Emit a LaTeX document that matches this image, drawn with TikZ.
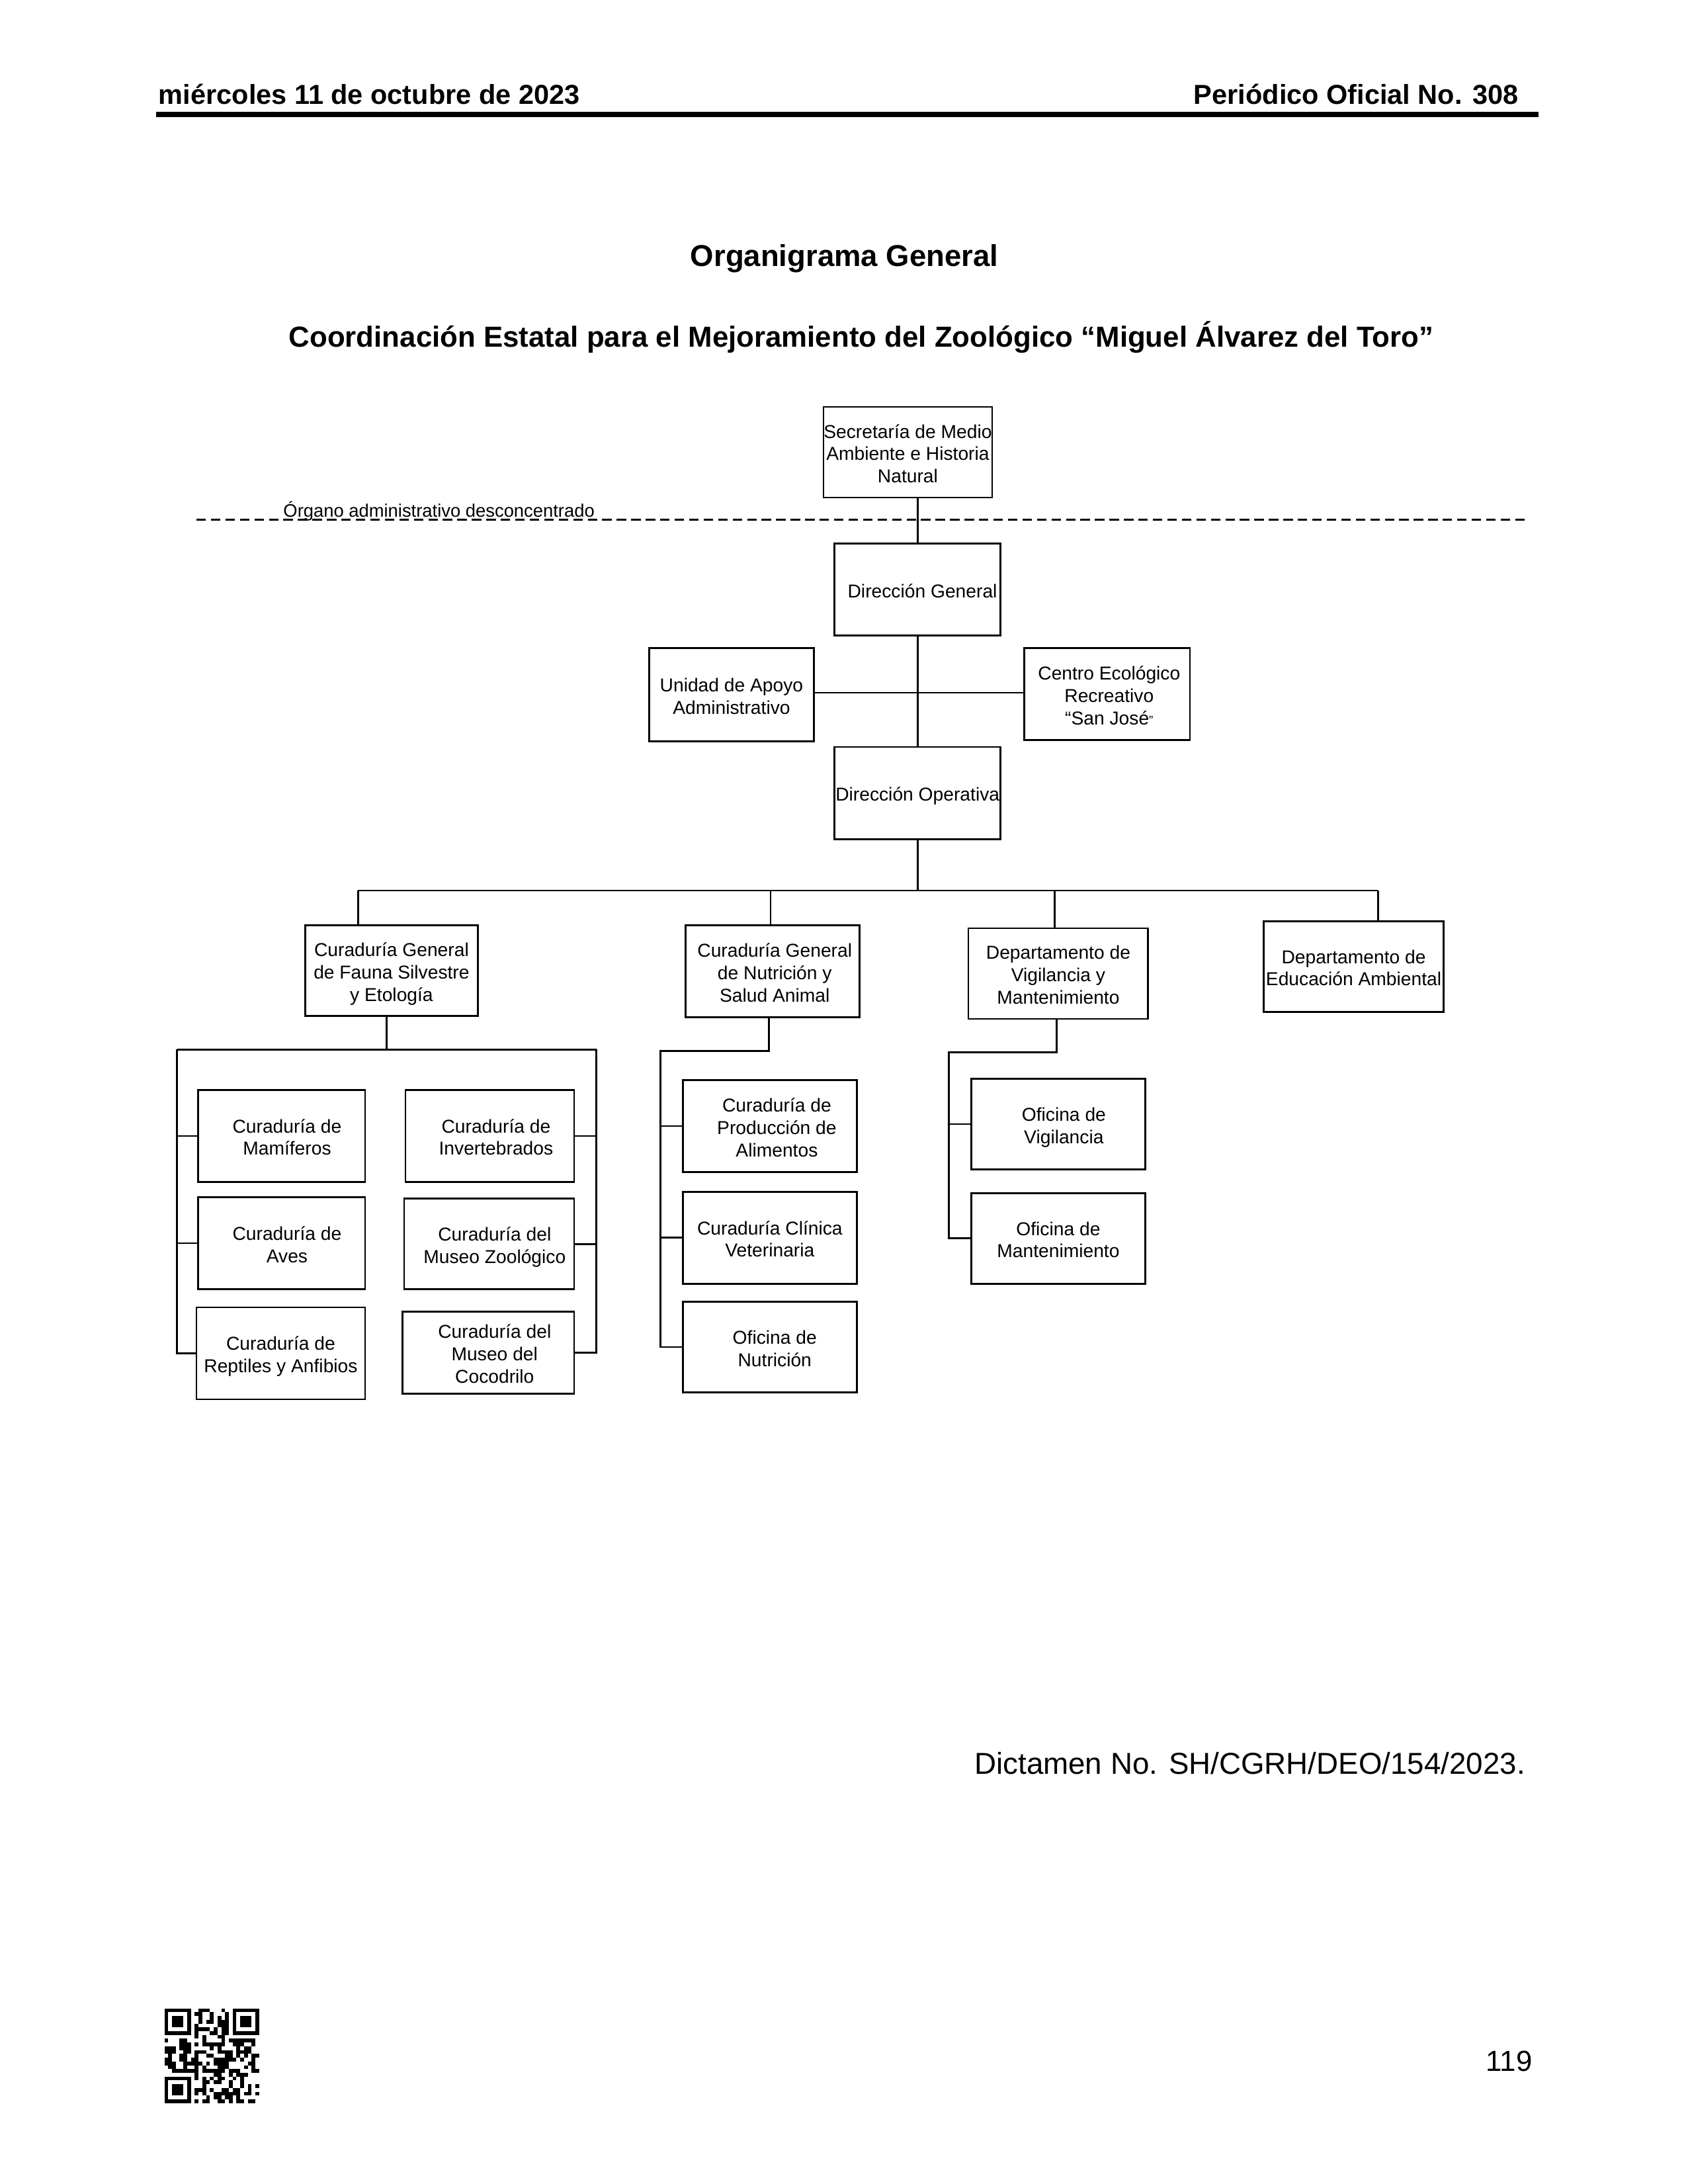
\documentclass[tikz,border=0pt]{standalone}
\usepackage{fontspec}
\setmainfont{Liberation Sans}
\usetikzlibrary{fit}
\newcommand\bxfont{\fontsize{6.7pt}{8pt}\selectfont}
\newsavebox\btbox
\newlength\btlift
% box text: rows block vertically centred by baseline, optional right shift
\newcommand\bt[2][0pt]{%
  \savebox\btbox{\begin{tabular}[t]{@{}c@{}}#2\end{tabular}}%
  \setlength\btlift{\dimexpr\dp\btbox/2-4.1pt\relax}%
  \hspace*{#1}\raisebox{\btlift}[0pt][0pt]{\usebox\btbox}}
\tikzset{
  bx/.style={draw, line width=0.65pt, inner sep=0pt, font=\bxfont},
  cn/.style={line width=0.65pt, line join=miter},
  txt/.style={inner sep=0pt},
  dashline/.style={line width=0.8pt, dash pattern=on 3.4pt off 1.8pt},
}
\begin{document}
\begin{tikzpicture}[x=0.5pt, y=-0.5pt]
\fill[white] (0,0) rectangle (1211,1567);
\useasboundingbox (0,0) rectangle (1211,1567);

% header
\node[txt, anchor=base west, font=\fontsize{9.85pt}{11pt}\selectfont\bfseries] (hdl) at (113.5,75) {miércoles 11 de octubre de 2023};
\node[txt, anchor=base east, font=\fontsize{9.85pt}{11pt}\selectfont\bfseries] (hdr) at (1090,75) {Periódico Oficial No. 308};
\coordinate (rl) at (112,82);
\coordinate (rr) at (1104,82);
\draw[line width=1.9pt] (rl) -- (rr);

% titles
\node[txt, anchor=base, font=\fontsize{10.8pt}{12pt}\selectfont\bfseries] (t1) at (606,191) {Organigrama General};
\node[txt, anchor=base, font=\fontsize{10.4pt}{12pt}\selectfont\bfseries] (t2) at (618,249) {Coordinación Estatal para el Mejoramiento del Zoológico “Miguel Álvarez del Toro”};

% dashed separator
\coordinate (dl) at (141,373);
\coordinate (dr) at (1097,373);
\draw[dashline] (dl) -- (dr);
\node[txt, anchor=base west, font=\fontsize{6.5pt}{8pt}\selectfont] (org) at (203,371) {Órgano administrativo desconcentrado};

% top boxes
\node[bx, fit={(591,292) (712,357)}] (sec) {\bt{Secretaría de Medio\\Ambiente e Historia\\Natural}};
\node[bx, fit={(599,390) (718,456)}] (dg) {\bt[3.5pt]{Dirección General}};
\node[bx, fit={(466,465) (584,532)}] (ua) {\bt{Unidad de Apoyo\\Administrativo}};
\node[bx, fit={(735,465) (854,531)}] (ce) {\bt[1.5pt]{Centro Ecológico\\Recreativo\\“San José{\fontsize{4.5pt}{4.5pt}\selectfont ”}}};
\node[bx, fit={(599,536) (718,602)}] (do) {\bt{Dirección Operativa}};

% level 2
\node[bx, fit={(219,664) (343,729)}] (fa) {\bt{Curaduría General\\de Fauna Silvestre\\y Etología}};
\node[bx, fit={(492,664) (617,730)}] (nu) {\bt[1.5pt]{Curaduría General\\de Nutrición y\\Salud Animal}};
\node[bx, fit={(695,666) (824,731)}] (vi) {\bt{Departamento de\\Vigilancia y\\Mantenimiento}};
\node[bx, fit={(907,661) (1036,726)}] (ed) {\bt{Departamento de\\Educación Ambiental}};

% fauna children
\node[bx, fit={(142,782) (262,848)}] (mam) {\bt[4pt]{Curaduría de\\Mamíferos}};
\node[bx, fit={(142,859) (262,925)}] (ave) {\bt[4pt]{Curaduría de\\Aves}};
\node[bx, fit={(141,938) (262,1004)}] (rep) {\bt{Curaduría de\\Reptiles y Anfibios}};
\node[bx, fit={(291,782) (412,848)}] (inv) {\bt[4.5pt]{Curaduría de\\Invertebrados}};
\node[bx, fit={(290,860) (412,925)}] (mzo) {\bt[4pt]{Curaduría del\\Museo Zoológico}};
\node[bx, fit={(289,941) (412,1000)}] (coc) {\bt[4.5pt]{Curaduría del\\Museo del\\Cocodrilo}};

% nutrition children
\node[bx, fit={(490,775) (615,841)}] (pro) {\bt[5pt]{Curaduría de\\Producción de\\Alimentos}};
\node[bx, fit={(490,855) (615,921)}] (cli) {\bt{Curaduría Clínica\\Veterinaria}};
\node[bx, fit={(490,934) (615,999)}] (onu) {\bt[3.5pt]{Oficina de\\Nutrición}};

% vigilance children
\node[bx, fit={(697,774) (822,839)}] (ovi) {\bt[4pt]{Oficina de\\Vigilancia}};
\node[bx, fit={(697,856) (822,921)}] (oma) {\bt{Oficina de\\Mantenimiento}};

% connectors top
\draw[cn] (sec.south -| dg.north) -- (dg.north);
\draw[cn] (dg.south) -- (do.north);
\coordinate (h1) at (658.5,497);
\draw[cn] (ua.east |- h1) -- (ce.west |- h1);

% level 2 bus
\coordinate (bus) at (658.5,639);
\coordinate (ta) at (257,639);
\coordinate (tb) at (553,639);
\coordinate (tc) at (757,639);
\coordinate (td) at (989,639);
\draw[cn] (do.south) -- (bus);
\draw[cn] (ta) -- (td);
\draw[cn] (ta) -- (ta |- fa.north);
\draw[cn] (tb) -- (tb |- nu.north);
\draw[cn] (tc) -- (tc |- vi.north);
\draw[cn] (td) -- (td |- ed.north);

% fauna bracket
\coordinate (fj) at (277.5,753);
\coordinate (fl) at (127,753);
\coordinate (fr) at (428,753);
\draw[cn] (fa.south -| fj) -- (fj);
\draw[cn] (fl) -- (fr);
\draw[cn] (fl) -- (fl |- rep.west) -- (rep.west);
\draw[cn] (fl |- mam.west) -- (mam.west);
\draw[cn] (fl |- ave.west) -- (ave.west);
\draw[cn] (fr) -- (fr |- coc.east) -- (coc.east);
\draw[cn] (fr |- inv.east) -- (inv.east);
\draw[cn] (fr |- mzo.east) -- (mzo.east);

% nutrition bracket
\coordinate (nj) at (552,754);
\coordinate (nl) at (474,754);
\draw[cn] (nu.south -| nj) -- (nj) -- (nl) -- (nl |- onu.west) -- (onu.west);
\draw[cn] (nl |- pro.west) -- (pro.west);
\draw[cn] (nl |- cli.west) -- (cli.west);

% vigilance bracket
\coordinate (vj) at (758.5,755);
\coordinate (vl) at (681,755);
\draw[cn] (vi.south -| vj) -- (vj) -- (vl) -- (vl |- oma.west) -- (oma.west);
\draw[cn] (vl |- ovi.west) -- (ovi.west);

% footer
\node[txt, anchor=base west, font=\fontsize{10.85pt}{13pt}\selectfont] (dic) at (699,1273) {Dictamen No. SH/CGRH/DEO/154/2023.};
\node[txt, anchor=base east, font=\fontsize{10.4pt}{12pt}\selectfont] (pg) at (1100,1486) {119};

% QR code
\begin{scope}[shift={(118,1441)}]
  \pgfmathsetseed{20231011}
  \foreach \qi in {0,...,24}{
    \foreach \qj in {0,...,24}{
      \pgfmathsetmacro\qrv{rnd}
      \pgfmathtruncatemacro\qinf{((\qi<8 && \qj<8) || (\qi>16 && \qj<8) || (\qi<8 && \qj>16)) ? 1 : 0}
      \ifnum\qinf=0
        \ifdim\qrv pt<0.5pt
          \fill (\qi*2.72,\qj*2.72) rectangle ++(2.72,2.72);
        \fi
      \fi
    }
  }
  \foreach \fx/\fy in {0/0, 18/0, 0/18}{
    \fill (\fx*2.72,\fy*2.72) rectangle ++(7*2.72,7*2.72);
    \fill[white] (\fx*2.72+2.72,\fy*2.72+2.72) rectangle ++(5*2.72,5*2.72);
    \fill (\fx*2.72+2*2.72,\fy*2.72+2*2.72) rectangle ++(3*2.72,3*2.72);
  }
\end{scope}
\end{tikzpicture}
\end{document}
